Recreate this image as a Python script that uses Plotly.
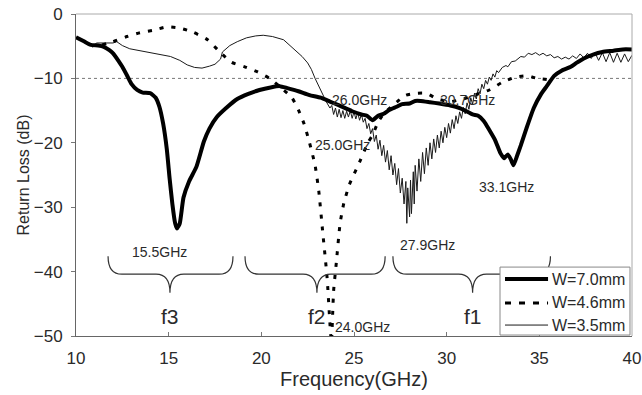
import plotly.graph_objects as go

# Return loss of the antenna for three patch widths
freq_w70 = [10.0, 10.4, 10.8, 11.2, 11.5, 11.8, 12.0, 12.3, 12.5, 12.8, 13.0, 13.3, 13.6, 14.0, 14.3,
            14.5, 14.7, 14.9, 15.05, 15.2, 15.35, 15.45, 15.6, 15.8, 16.1, 16.5, 16.9, 17.2, 17.6,
            18.1, 18.7, 19.3, 19.9, 20.5, 21.0, 21.4, 22.0, 22.6, 23.2, 23.7, 24.2, 24.9, 25.4,
            25.7, 26.0, 26.3, 26.6, 26.9, 27.3, 27.6, 28.0, 28.3, 28.6, 29.1, 29.6, 30.2, 30.7,
            31.0, 31.4, 31.7, 32.0, 32.3, 32.6, 32.9, 33.1, 33.3, 33.45, 33.6, 33.8, 34.0, 34.3,
            34.7, 35.1, 35.4, 35.8, 36.2, 36.7, 37.0, 37.4, 37.9, 38.4, 39.0, 39.5, 40.0]
rl_w70 = [-3.6, -4.2, -4.8, -4.9, -5.1, -5.6, -6.1, -7.3, -8.2, -9.8, -10.9, -11.8, -12.2, -12.3, -13.0,
          -14.4, -17.0, -21.0, -25.5, -29.5, -32.5, -33.3, -32.5, -28.5, -26.0, -23.7, -19.8, -17.8, -16.0,
          -14.6, -13.2, -12.4, -11.8, -11.4, -11.2, -11.5, -12.0, -12.6, -13.0, -13.6, -14.2, -15.1, -15.6,
          -15.8, -16.5, -15.8, -15.5, -14.9, -14.4, -14.0, -13.9, -13.5, -13.5, -13.7, -13.9, -14.2, -14.6,
          -15.0, -15.6, -15.8, -16.6, -18.0, -19.5, -21.6, -22.4, -21.8, -22.5, -23.5, -22.0, -20.4, -17.8,
          -14.6, -12.4, -11.2, -9.6, -8.8, -8.2, -7.6, -6.9, -6.3, -5.9, -5.7, -5.5, -5.5]

freq_w46 = [11.4, 12.0, 12.75, 13.45, 14.2, 14.9, 15.6, 16.3, 17.1, 17.8, 18.4, 19.1, 19.8, 20.5, 21.0,
            21.65, 22.0, 22.3, 22.6, 22.9, 23.1, 23.3, 23.55, 23.7, 23.78, 23.9, 24.05, 24.25, 24.45,
            24.75, 25.3, 25.75, 26.0, 26.3, 26.6, 27.3, 27.8, 28.4, 28.9, 29.5, 30.2, 30.9, 31.6, 32.3,
            33.0, 33.7, 34.3, 34.9, 35.5]
rl_w46 = [-4.8, -4.3, -3.5, -2.9, -2.5, -2.0, -2.2, -2.8, -4.0, -6.0, -7.5, -8.2, -9.0, -10.1, -11.3,
          -13.0, -14.9, -17.0, -20.0, -23.5, -27.5, -33.5, -41.0, -48.0, -51.0, -43.0, -38.5, -32.5, -29.4,
          -26.5, -23.0, -20.0, -18.8, -16.8, -15.5, -13.7, -12.6, -12.3, -12.3, -13.2, -13.6, -13.2, -12.5, -11.8,
          -10.6, -9.8, -9.6, -10.0, -10.2]

freq_w35 = [10.9, 11.1, 11.6, 12.0, 12.2, 12.5, 12.9, 13.5, 14.0, 14.5, 15.1, 15.6, 16.0, 16.4, 16.8,
            17.2, 17.5, 17.8, 17.9, 18.3, 18.7, 19.2, 19.7, 20.1, 20.6, 21.2, 21.6, 21.9, 22.2, 22.5,
            22.7, 22.9, 23.1, 23.3, 23.5, 23.7,
            23.8, 23.9, 24.0, 24.1, 24.2, 24.3, 24.4, 24.5, 24.6, 24.7, 24.8, 24.9, 25.0, 25.1, 25.2,
            25.3, 25.4, 25.5, 25.6, 25.7, 25.8, 25.9, 26.0, 26.1, 26.2, 26.3, 26.4, 26.5, 26.6, 26.7,
            26.8, 26.9, 27.0, 27.1, 27.2, 27.3, 27.4, 27.5, 27.6, 27.7, 27.8, 27.85, 27.9, 28.0, 28.05,
            28.1, 28.2, 28.25, 28.3, 28.4, 28.5, 28.6, 28.7, 28.8, 28.9, 29.0, 29.1, 29.2, 29.3, 29.4,
            29.5, 29.6, 29.7, 29.8, 29.9, 30.0, 30.1, 30.2, 30.3, 30.4, 30.5, 30.6, 30.7, 30.8, 30.9,
            31.0, 31.1, 31.2, 31.3, 31.4, 31.5, 31.6, 31.7, 31.8, 31.9, 32.0, 32.1, 32.2, 32.3, 32.4,
            32.5, 32.6, 32.7, 32.8, 33.0, 33.2, 33.3, 33.5, 33.7, 34.0, 34.2, 34.4, 34.6, 34.8, 35.0,
            35.2, 35.4, 35.6, 35.8, 36.0, 36.2, 36.4, 36.6, 36.8, 37.0, 37.2, 37.4, 37.6, 37.8, 38.0,
            38.2, 38.4, 38.6, 38.8, 39.0, 39.2, 39.4, 39.6, 39.8, 40.0]
rl_w35 = [-5.2, -4.5, -4.5, -4.5, -4.3, -4.9, -5.4, -5.7, -6.0, -6.2, -6.6, -7.2, -7.9, -8.3, -8.4,
          -8.1, -7.8, -7.0, -5.9, -4.9, -4.3, -3.7, -3.4, -3.3, -3.5, -4.0, -5.0, -5.8, -6.6, -7.6,
          -8.6, -10.0, -11.2, -12.6, -13.6, -14.6,
          -14.2, -15.6, -14.6, -16.0, -14.8, -16.1, -15.0, -16.2, -15.1, -16.0, -15.0, -16.2, -15.2, -16.3, -15.3,
          -16.5, -15.6, -16.8, -16.2, -17.8, -17.0, -18.6, -17.8, -19.8, -18.8, -21.0, -19.6, -22.0, -20.4, -23.0,
          -21.2, -24.2, -22.0, -25.0, -23.2, -26.5, -24.0, -27.8, -25.5, -29.5, -26.0, -32.5, -27.0, -31.5, -25.8,
          -31.0, -24.5, -29.5, -23.5, -27.5, -22.5, -26.0, -21.5, -24.8, -20.8, -23.5, -20.0, -22.5, -19.4, -21.5,
          -18.8, -20.8, -18.2, -20.0, -17.6, -19.2, -17.0, -18.5, -16.4, -17.8, -15.8, -17.0, -15.2, -16.2, -14.5,
          -15.5, -13.8, -14.8, -13.0, -14.0, -12.3, -13.2, -11.6, -12.4, -10.9, -11.6, -10.3, -10.9, -9.8, -10.3,
          -9.3, -9.8, -8.8, -9.1, -8.3, -8.0, -8.2, -7.4, -7.3, -6.6, -6.7, -6.1, -6.3, -6.0, -6.4,
          -6.1, -6.5, -6.3, -6.8, -6.6, -7.0, -6.7, -7.0, -6.5, -6.9, -6.2, -6.8, -6.1, -6.9, -6.0,
          -7.2, -6.0, -7.4, -6.0, -7.5, -6.1, -7.5, -6.2, -7.4, -6.4]

# Frequency labels: value, anchor x, anchor y
marker_ghz = [26.0, 25.0, 30.7, 33.1, 27.9, 15.5, 24.0]
marker_x = [23.7, 22.8, 29.55, 31.65, 27.4, 12.9, 23.85]
marker_y = [-13.3, -20.3, -13.3, -26.9, -35.9, -37.0, -48.6]

# Band braces: name, left, centre, right
band_names = ["f3", "f2", "f1"]
band_left = [11.73, 19.12, 27.1]
band_mid = [15.07, 23.0, 31.4]
band_right = [18.47, 26.68, 35.6]

FONT = "Liberation Sans, Arial, sans-serif"
TXT = "#2a2a2a"

series = [
    ("W=7.0mm", freq_w70, rl_w70, dict(color="black", width=4, shape="spline", smoothing=0.5)),
    ("W=4.6mm", freq_w46, rl_w46, dict(color="black", width=3, dash="4px,8px", shape="spline", smoothing=0.5)),
    ("W=3.5mm", freq_w35, rl_w35, dict(color="#1a1a1a", width=1)),
]

fig = go.Figure()
# thin trace at the bottom, thick one on top
for name, fx, ry, ln in reversed(series):
    fig.add_trace(go.Scatter(x=fx, y=ry, mode="lines", name=name, line=ln, showlegend=False))

# -10 dB reference
fig.add_shape(type="line", xref="x", yref="y", x0=10, x1=40, y0=-10, y1=-10,
              line=dict(color="#777777", width=1, dash="dot"), layer="below")
# light top / right frame
fig.add_shape(type="line", xref="paper", yref="paper", x0=0, x1=1, y0=1, y1=1,
              line=dict(color="#aaaaaa", width=1))
fig.add_shape(type="line", xref="paper", yref="paper", x0=1, x1=1, y0=0, y1=1,
              line=dict(color="#aaaaaa", width=1))

y_top, y_line, y_tip = -37.6, -40.4, -43.3
for name, xl, xm, xr in zip(band_names, band_left, band_mid, band_right):
    d = 0.75
    path = (f"M {xl},{y_top} Q {xl},{y_line} {xl + d},{y_line} L {xm - d},{y_line} "
            f"Q {xm},{y_line} {xm},{y_tip} Q {xm},{y_line} {xm + d},{y_line} "
            f"L {xr - d},{y_line} Q {xr},{y_line} {xr},{y_top}")
    fig.add_shape(type="path", xref="x", yref="y", path=path,
                  line=dict(color="#333333", width=1.2))
    fig.add_annotation(x=xm, y=-47, xref="x", yref="y", text=name, showarrow=False,
                       font=dict(family=FONT, size=21, color=TXT))

for g, xa, ya in zip(marker_ghz, marker_x, marker_y):
    fig.add_annotation(x=xa, y=ya, xref="x", yref="y", text=f"{g:.1f}GHz", showarrow=False,
                       xanchor="left", font=dict(family=FONT, size=14, color=TXT))

# boxed key in the lower-right corner of the plot
kx0, kx1, ky0, ky1 = 0.7626, 0.9964, 0.003, 0.214
fig.add_shape(type="rect", xref="paper", yref="paper", x0=kx0, x1=kx1, y0=ky0, y1=ky1,
              line=dict(color="#888888", width=1), fillcolor="white", layer="above")
key_rows = [0.177, 0.1025, 0.034]
for (name, _, _, ln), ky in zip(series, key_rows):
    key_line = dict(color=ln["color"], width=ln["width"])
    if "dash" in ln:
        key_line["dash"] = "6px,8px"
    fig.add_shape(type="line", xref="paper", yref="paper", x0=0.7716, x1=0.849, y0=ky, y1=ky,
                  line=key_line, layer="above")
    fig.add_annotation(x=0.8525, y=ky, xref="paper", yref="paper", text=name, showarrow=False,
                       xanchor="left", yanchor="middle", font=dict(family=FONT, size=16, color=TXT))

fig.update_layout(
    width=642, height=395,
    margin=dict(l=76, r=10, t=14, b=59),
    paper_bgcolor="white", plot_bgcolor="white",
    font=dict(family=FONT, color=TXT, size=17),
    showlegend=False,
    xaxis=dict(range=[10, 40], tickvals=[10, 15, 20, 25, 30, 35, 40], ticks="inside", ticklen=4,
               tickcolor="#777777", showline=True, linecolor="#666666", linewidth=1, showgrid=False,
               zeroline=False, title=dict(text="Frequency(GHz)", standoff=2), automargin=False,
               tickfont=dict(size=17), ticklabeloverflow="allow", ticklabelstandoff=7),
    yaxis=dict(range=[-50, 0], tickvals=[0, -10, -20, -30, -40, -50], ticks="outside", ticklen=4,
               tickcolor="#777777", showline=True, linecolor="#666666", linewidth=1, showgrid=False,
               zeroline=False, title=dict(text="Return Loss (dB)", standoff=0, font=dict(size=16)),
               automargin=False, tickfont=dict(size=17), ticklabeloverflow="allow", ticklabelstandoff=5),
)

fig.write_html("out.html")
